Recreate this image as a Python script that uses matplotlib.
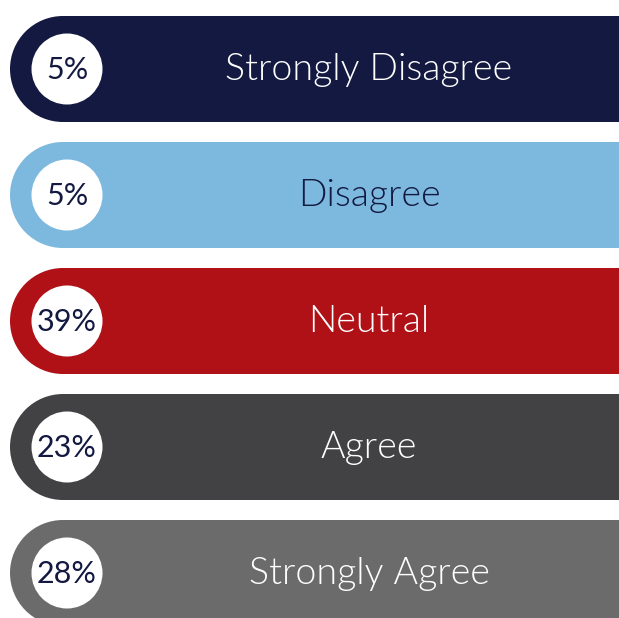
import matplotlib
matplotlib.use('Agg')
import matplotlib.pyplot as plt
import matplotlib.patches as patches

labels = ['Strongly Disagree', 'Disagree', 'Neutral', 'Agree', 'Strongly Agree']
percents = [5, 5, 39, 23, 28]
bar_colors = ['#131940', '#7db9df', '#af1117', '#424244', '#6b6b6b']
label_colors = ['white', '#131940', 'white', 'white', 'white']

NAVY = '#131940'
W, H = 619, 618
TOP = 16
STEP = 126
BAR_H = 106
LEFT = 10


def draw_bar(ax, i):
    top = TOP + i * STEP
    mid = top + BAR_H / 2
    r = BAR_H / 2
    # bar: half circle on the left, rectangle running off the right edge
    ax.add_patch(patches.Circle((LEFT + r, mid), r, facecolor=bar_colors[i], edgecolor='none'))
    ax.add_patch(patches.Rectangle((LEFT + r, top), W, BAR_H, facecolor=bar_colors[i], edgecolor='none'))
    ax.add_patch(patches.Circle((67, mid), 35.5, facecolor='white', edgecolor='none'))
    ax.text(67, mid + 1, f'{percents[i]}%', ha='center', va='center',
            fontsize=22, color=NAVY, family='Lato')
    ax.text(369, mid + 1, labels[i], ha='center', va='center',
            fontsize=27, color=label_colors[i], family='Lato', weight=300)


def main():
    fig = plt.figure(figsize=(W / 100, H / 100), dpi=100)
    ax = fig.add_axes([0, 0, 1, 1])
    ax.set_xlim(0, W)
    ax.set_ylim(H, 0)
    ax.set_axis_off()
    for i in range(len(labels)):
        draw_bar(ax, i)
    fig.savefig('out.png', dpi=100)

main()
